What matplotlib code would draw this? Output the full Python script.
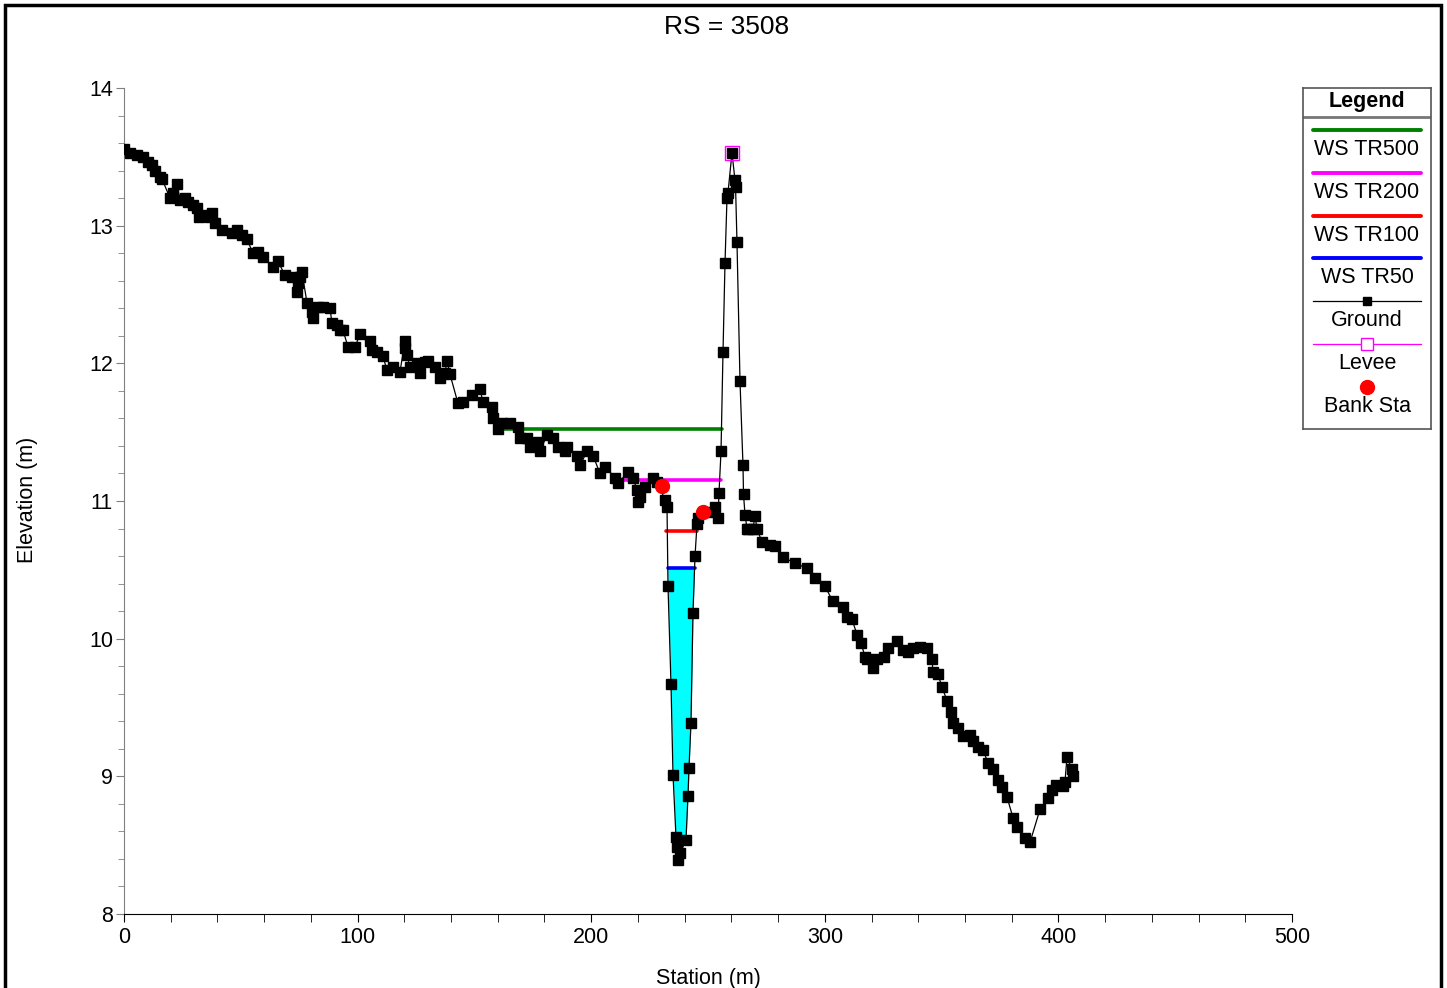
import numpy as np
import matplotlib
matplotlib.use('Agg')
import matplotlib.pyplot as plt
from matplotlib.patches import Rectangle
from matplotlib.ticker import MultipleLocator

plt.rcParams['font.family'] = ['Liberation Sans', 'DejaVu Sans']

# Ground profile (station m, elevation m)
station = [0, 2.57, 5.57, 8.13, 10.27, 11.99, 13.27, 15.41, 16.27, 19.69, 20.98, 22.69, 23.97, 26.11,
           27.40, 29.54, 31.25, 32.11, 33.82, 36.82, 37.67, 38.96, 41.95, 46.23, 48.37, 50.51, 52.65,
           55.22, 57.36, 59.50, 63.78, 65.92, 68.92, 71.92, 74.06, 74.49, 75.34, 76.2, 78.34, 80.48,
           80.91, 83.05, 85.19, 88.18, 89.04, 91.18, 92.47, 93.75, 95.89, 98.89, 101.03, 105.31, 106.0,
           108.30, 110.87, 112.58, 115.15, 118.15, 120.29, 120.5, 121.15, 122.43, 125.43, 126.71, 128.85,
           130.14, 133.13, 135.27, 137.41, 138.27, 139.55, 142.98, 145.12, 148.97, 152.40, 153.68, 157.53,
           157.96, 160.10, 161.81, 165.24, 168.66, 169.52, 172.52, 173.80, 177.22, 178.08, 181.08, 183.65,
           185.79, 188.78, 189.64, 193.92, 195.20, 198.20, 200.77, 203.77, 205.91, 210.19, 211.47, 215.75,
           217.89, 219.60, 220.03, 220.89, 223.0, 226.45, 228.2, 231.59, 232.45, 232.88, 234.16, 235.02,
           236.30, 236.73, 237.16, 238.01, 240.58, 241.44, 241.87, 242.72, 243.58, 244.44, 245.29, 245.72,
           250.86, 253.0, 254.28, 254.71, 255.57, 256.42, 257.28, 258.13, 258.56, 260.27, 261.56, 261.8,
           262.41, 263.70, 264.98, 265.2, 265.84, 266.70, 267.12, 269.27, 270.12, 270.98, 273.12, 276.54,
           278.68, 282.11, 287.24, 292.38, 295.80, 300.08, 303.51, 307.79, 309.50, 311.64, 313.78, 315.49,
           317.20, 318.06, 320.63, 322.34, 325.34, 327.05, 330.90, 333.47, 335.61, 337.75, 340.75, 343.74,
           345.88, 346.31, 348.45, 350.16, 352.30, 354.02, 354.87, 357.01, 359.15, 362.15, 363.44, 365.58,
           367.72, 369.86, 372.00, 374.14, 375.85, 377.99, 380.56, 382.27, 385.70, 387.84, 392.12, 395.54,
           397.25, 398.97, 401.96, 402.82, 403.67, 405.81, 406.24]
elevation = [13.56, 13.53, 13.51, 13.50, 13.46, 13.44, 13.40, 13.35, 13.34, 13.20, 13.24, 13.30, 13.19, 13.20,
             13.17, 13.15, 13.13, 13.06, 13.08, 13.06, 13.09, 13.02, 12.97, 12.95, 12.97, 12.93, 12.90,
             12.80, 12.81, 12.77, 12.70, 12.74, 12.64, 12.63, 12.52, 12.58, 12.63, 12.66, 12.44, 12.37,
             12.33, 12.41, 12.41, 12.40, 12.29, 12.28, 12.24, 12.24, 12.12, 12.12, 12.21, 12.16, 12.10,
             12.08, 12.05, 11.95, 11.97, 11.94, 12.16, 12.11, 12.06, 11.97, 12.00, 11.93, 12.01,
             12.02, 11.97, 11.89, 11.93, 12.02, 11.92, 11.71, 11.72, 11.77, 11.81, 11.72, 11.68,
             11.60, 11.52, 11.57, 11.57, 11.54, 11.46, 11.46, 11.39, 11.43, 11.36, 11.48, 11.46,
             11.39, 11.36, 11.39, 11.33, 11.26, 11.36, 11.33, 11.20, 11.25, 11.17, 11.13, 11.21,
             11.17, 11.08, 10.99, 11.03, 11.10, 11.17, 11.14, 11.01, 10.96, 10.38, 9.67, 9.01,
             8.56, 8.49, 8.39, 8.44, 8.54, 8.86, 9.06, 9.39, 10.19, 10.60, 10.83, 10.88,
             10.92, 10.96, 10.88, 11.06, 11.36, 12.08, 12.73, 13.20, 13.24, 13.53, 13.33, 13.28,
             12.88, 11.87, 11.26, 11.05, 10.90, 10.80, 10.80, 10.80, 10.89, 10.80, 10.70, 10.68,
             10.67, 10.59, 10.55, 10.51, 10.44, 10.38, 10.27, 10.23, 10.16, 10.14, 10.03, 9.97,
             9.87, 9.85, 9.79, 9.85, 9.87, 9.93, 9.98, 9.92, 9.90, 9.93, 9.94, 9.93,
             9.85, 9.76, 9.74, 9.65, 9.55, 9.47, 9.39, 9.35, 9.29, 9.30, 9.26, 9.21,
             9.19, 9.10, 9.05, 8.97, 8.92, 8.85, 8.70, 8.63, 8.55, 8.52, 8.76, 8.84,
             8.90, 8.94, 8.93, 8.96, 9.14, 9.05, 9.00]

# Water surfaces
ws_names = ['WS TR500', 'WS TR200', 'WS TR100', 'WS TR50']
ws_levels = [11.52, 11.15, 10.78, 10.51]
ws_left = [160.1, 210.6, 232.0, 232.9]
ws_right = [256.0, 255.6, 245.3, 244.4]
ws_colors = ['#008000', '#ff00ff', '#ff0000', '#0000ff']

levee_sta = [260.3]
levee_elev = [13.53]

bank_sta = [230.3, 247.9]
bank_elev = [11.11, 10.92]

sta = np.array(station)
elev = np.array(elevation)

fig = plt.figure(figsize=(14.47, 9.88), dpi=100)
ax = fig.add_axes([124 / 1447, 74 / 988, 1168 / 1447, 826 / 988])

# water in the main channel for the lowest profile
chan = (sta >= 230) & (sta <= 250) & (elev <= ws_levels[3])
ax.fill_between(sta, elev, ws_levels[3], where=chan, interpolate=True,
                color='#00ffff', lw=0, zorder=1)

for lev, l, r, c in zip(ws_levels, ws_left, ws_right, ws_colors):
    ax.plot([l, r], [lev, lev], color=c, lw=2.6, solid_capstyle='round', zorder=3)

ax.plot(sta, elev, color='black', lw=0.9, marker='s', ms=7, zorder=4)
ax.plot(levee_sta, levee_elev, 's', mfc='none', mec='#ff00ff', ms=9.5, mew=1, zorder=5)
ax.plot(bank_sta, bank_elev, 'o', color='red', ms=10, zorder=5)

ax.set_xlim(0, 500)
ax.set_ylim(8, 14)
ax.xaxis.set_major_locator(MultipleLocator(100))
ax.xaxis.set_minor_locator(MultipleLocator(20))
ax.yaxis.set_major_locator(MultipleLocator(1))
ax.yaxis.set_minor_locator(MultipleLocator(0.2))
ax.spines['top'].set_visible(False)
ax.spines['right'].set_visible(False)
ax.spines['left'].set_color('#808080')
ax.spines['bottom'].set_color('black')
ax.tick_params(axis='x', which='both', direction='out', length=6, labelsize=15.5, pad=3)
ax.tick_params(axis='y', which='major', direction='out', length=6, color='#808080', labelsize=15.5, pad=2)
ax.tick_params(axis='y', which='minor', direction='out', length=4, color='#808080')

fig.text(727 / 1447, 1 - 27 / 988, 'RS = 3508', ha='center', va='center', fontsize=19)
fig.text(708 / 1447, 1 - 978 / 988, 'Station (m)', ha='center', va='center', fontsize=15.5)
fig.text(28 / 1447, 1 - 500 / 988, 'Elevation (m)', ha='center', va='center',
         rotation=90, fontsize=15.5)

# Legend box on the right
lg = fig.add_axes([1303 / 1447, 1 - 429 / 988, 128 / 1447, 341 / 988])
lg.set_xlim(0, 128)
lg.set_ylim(341, 0)
lg.set_xticks([])
lg.set_yticks([])
for s in lg.spines.values():
    s.set_color('#555555')
    s.set_linewidth(1.2)
lg.text(64, 13, 'Legend', ha='center', va='center', fontsize=15.5, fontweight='bold')
lg.plot([0, 128], [29, 29], color='#777777', lw=2)

names = ws_names + ['Ground', 'Levee', 'Bank Sta']
for i, name in enumerate(names):
    yl = 42 + 42.8 * i
    if i < 4:
        lg.plot([10, 118], [yl, yl], color=ws_colors[i], lw=2.8, solid_capstyle='round')
    elif name == 'Ground':
        lg.plot([10, 118], [yl, yl], color='black', lw=0.9)
        lg.plot([64], [yl], 's', color='black', ms=6)
    elif name == 'Levee':
        lg.plot([10, 118], [yl, yl], color='#ff00ff', lw=0.9)
        lg.plot([64], [yl], 's', mfc='white', mec='#ff00ff', ms=9, mew=1)
    else:
        lg.plot([64], [yl], 'o', color='red', ms=10)
    lg.text(64, yl + 19.5, name, ha='center', va='center', fontsize=15.5)

# frame around the whole figure
fig.patches.append(Rectangle((5 / 1447, -0.05), 1436 / 1447, 1.05 - 5 / 988,
                             transform=fig.transFigure, fill=False,
                             edgecolor='black', lw=2.5, clip_on=False))

fig.savefig('out.png', dpi=100)
